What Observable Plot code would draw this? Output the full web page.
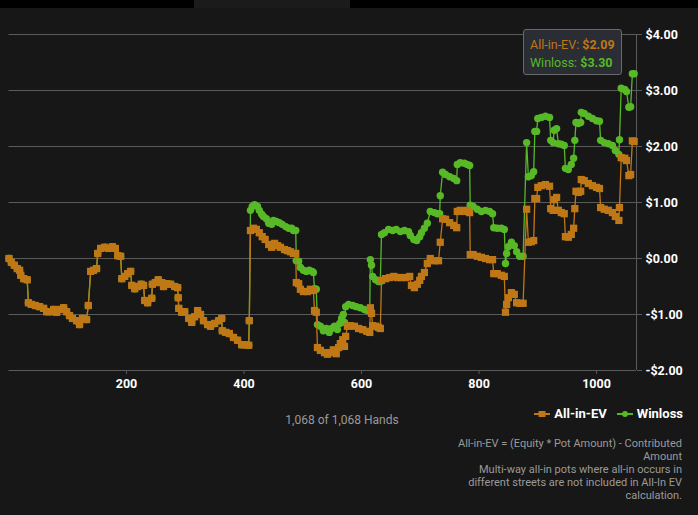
<!DOCTYPE html>
<html>
<head>
<meta charset="utf-8">
<script src="https://cdn.jsdelivr.net/npm/d3@7"></script>
<script src="https://cdn.jsdelivr.net/npm/@observablehq/plot@0.6"></script>
<style>
  html, body { margin: 0; padding: 0; }
  body { background: #171717; width: 698px; height: 515px; overflow: hidden; position: relative; font-family: Roboto, "Open Sans", sans-serif; }
  .bar { position: absolute; top: 0; height: 8px; background: #000; }
  #chart { position: absolute; left: 0; top: 0; }
  #tooltip { position: absolute; left: 523px; top: 29px; width: 99px; height: 46px; background: #2a2d34; border: 1px solid #6a6a6a; border-radius: 3px; font-size: 12.5px; line-height: 18px; padding: 6px 0 0 6px; box-sizing: border-box; }
  #tooltip b { font-weight: 700; }
  #hands { position: absolute; left: 0; width: 684px; top: 413px; text-align: center; color: #9a9a9a; font-size: 12px; }
  #legend { position: absolute; right: 15px; top: 406px; display: flex; align-items: center; gap: 10px; color: #fff; font-weight: 700; font-size: 13px; }
  #legend span { display: flex; align-items: center; gap: 4px; }
  #caption { position: absolute; right: 16px; top: 437px; text-align: right; color: #9a9a9a; font-size: 11px; line-height: 13px; }
</style>
</head>
<body>
<div class="bar" style="left:0;width:194px"></div>
<div class="bar" style="left:194px;width:156px;background:#1b1b1b"></div>
<div class="bar" style="left:350px;width:348px"></div>
<div id="chart"></div>
<div id="tooltip"></div>
<div id="hands"></div>
<div id="legend"></div>
<div id="caption"></div>
<script>
// ---------- data ----------
const seriesNames = ["All-in-EV", "Winloss"];
const seriesColors = ["#bf7815", "#58b927"];
const totalHands = 1068;
const xTicks = [200, 400, 600, 800, 1000];
const yTicks = [-2, -1, 0, 1, 2, 3, 4];

// hands 0..409: Winloss and All-in-EV coincide
const sharedHands = [0,4,9,14,18,20,25,31,33,38,45,52,59,64,71,76,81,88,93,98,103,108,115,120,125,132,135,139,144,149,151,156,163,169,176,181,185,190,192,197,202,207,209,214,219,225,229,231,236,243,244,249,254,260,263,268,275,282,287,288,289,294,299,306,311,316,321,326,331,338,343,350,357,362,363,369,375,382,389,396,402,408,409];
const sharedValues = [0.00,-0.07,-0.12,-0.18,-0.21,-0.30,-0.36,-0.38,-0.79,-0.82,-0.84,-0.86,-0.89,-0.95,-0.95,-0.91,-0.96,-0.91,-0.88,-0.95,-1.02,-1.07,-1.11,-1.18,-1.07,-1.09,-0.84,-0.23,-0.21,-0.18,0.09,0.18,0.20,0.18,0.21,0.18,0.05,0.04,-0.36,-0.32,-0.27,-0.23,-0.48,-0.54,-0.50,-0.46,-0.48,-0.75,-0.79,-0.71,-0.46,-0.43,-0.38,-0.43,-0.50,-0.45,-0.46,-0.50,-0.52,-0.70,-0.89,-0.96,-0.95,-1.07,-1.14,-1.04,-0.93,-1.00,-1.11,-1.18,-1.21,-1.16,-1.11,-1.07,-1.29,-1.32,-1.34,-1.41,-1.46,-1.54,-1.54,-1.55,-1.11];

const evHands = [411,416,421,426,431,436,442,447,452,457,462,469,474,479,484,488,489,493,496,501,508,513,518,520,523,525,530,537,542,547,552,557,561,564,568,571,573,576,581,588,595,602,609,614,615,617,619,624,629,632,634,641,648,655,661,668,675,682,685,690,695,699,702,707,712,717,724,731,734,738,743,750,757,762,763,768,775,780,784,785,790,797,804,811,818,823,825,831,838,843,845,847,850,855,860,864,869,875,881,884,889,893,895,898,900,906,913,920,922,926,928,932,935,940,945,947,952,957,961,963,965,969,973,974,979,986,993,1000,1005,1007,1013,1020,1027,1032,1038,1039,1042,1048,1051,1055,1058,1061,1064];
const evValues = [0.50,0.54,0.52,0.46,0.39,0.34,0.25,0.20,0.27,0.23,0.20,0.16,0.14,0.12,0.09,0.09,-0.43,-0.45,-0.55,-0.59,-0.59,-0.55,-0.57,-0.93,-0.96,-1.59,-1.64,-1.68,-1.71,-1.68,-1.63,-1.70,-1.59,-1.52,-1.45,-1.57,-1.39,-1.21,-1.20,-1.21,-1.25,-1.27,-1.30,-1.32,-0.88,-0.98,-1.20,-1.21,-1.23,-1.25,-0.39,-0.36,-0.34,-0.32,-0.34,-0.34,-0.34,-0.32,-0.48,-0.52,-0.46,-0.39,-0.32,-0.25,-0.09,0.00,-0.04,-0.04,0.29,0.71,0.70,0.64,0.59,0.55,0.84,0.86,0.84,0.86,0.82,0.07,0.07,0.04,0.02,0.00,-0.02,-0.02,-0.27,-0.27,-0.30,-0.32,-0.96,-0.82,-0.70,-0.61,-0.64,-0.79,-0.80,-0.80,0.88,0.29,0.30,0.32,1.07,1.07,1.27,1.30,1.32,1.29,0.89,0.86,1.05,1.09,0.86,0.82,0.80,0.39,0.38,0.43,0.54,0.89,1.20,1.18,1.20,1.41,1.39,1.34,1.30,1.27,1.25,0.91,0.88,0.86,0.82,0.75,0.68,0.91,1.80,1.79,1.75,1.48,1.50,2.10,2.09];

const wlHands = [411,414,418,423,426,430,433,438,442,447,450,455,460,465,471,476,481,484,488,489,493,496,501,506,511,516,518,520,523,525,530,535,540,545,549,554,559,563,566,569,571,573,578,585,591,598,605,610,614,615,617,619,624,629,632,634,639,646,653,659,666,673,680,683,689,694,699,702,707,712,717,724,729,733,734,738,743,750,757,762,763,768,775,780,784,785,790,797,804,811,818,823,825,831,838,843,845,847,850,855,860,864,869,875,881,884,889,893,895,898,900,906,913,920,922,926,928,932,935,940,945,947,952,957,961,963,965,969,973,974,979,986,993,1000,1005,1007,1013,1020,1027,1032,1038,1039,1042,1048,1051,1055,1058,1061,1064];
const wlValues = [0.86,0.93,0.96,0.93,0.86,0.79,0.75,0.71,0.63,0.61,0.68,0.66,0.64,0.61,0.57,0.54,0.54,0.50,0.50,-0.04,-0.05,-0.16,-0.21,-0.23,-0.21,-0.23,-0.25,-0.54,-0.55,-1.18,-1.21,-1.29,-1.25,-1.32,-1.25,-1.21,-1.27,-1.16,-1.07,-1.00,-1.14,-0.86,-0.82,-0.84,-0.86,-0.88,-0.91,-0.93,-0.93,-0.02,-0.12,-0.32,-0.38,-0.41,-0.41,0.43,0.46,0.52,0.50,0.52,0.48,0.50,0.48,0.41,0.34,0.32,0.39,0.46,0.54,0.63,0.84,0.82,0.80,0.80,1.12,1.54,1.50,1.46,1.43,1.39,1.68,1.71,1.70,1.68,1.66,0.95,0.93,0.88,0.84,0.86,0.84,0.80,0.55,0.54,0.54,0.52,-0.09,0.09,0.21,0.29,0.23,0.12,0.04,0.04,2.07,1.46,1.48,1.55,2.27,2.27,2.50,2.52,2.54,2.52,2.11,2.07,2.29,2.32,2.05,2.04,2.02,1.61,1.59,1.68,1.79,2.11,2.43,2.41,2.43,2.61,2.59,2.54,2.50,2.46,2.45,2.11,2.07,2.05,2.02,1.93,1.86,2.12,3.04,3.02,2.98,2.70,2.71,3.30,3.30];

// ---------- build tables ----------
const shared = sharedHands.map((h, i) => ({hand: h, value: sharedValues[i]}));
const evData = shared.concat(evHands.map((h, i) => ({hand: h, value: evValues[i]})));
const wlData = shared.concat(wlHands.map((h, i) => ({hand: h, value: wlValues[i]})));

const money = d => (d < 0 ? "-" : "") + "$" + Math.abs(d).toFixed(2);

const chart = Plot.plot({
  width: 698,
  height: 400,
  marginLeft: 8.5,
  marginRight: 62,
  marginTop: 34,
  marginBottom: 30,
  style: {background: "transparent", fontFamily: "Roboto, sans-serif", fontSize: "12px"},
  x: {domain: [0, totalHands]},
  y: {domain: [-2, 4]},
  marks: [
    Plot.ruleY(yTicks, {stroke: "#5a5a5a", strokeWidth: 1}),
    Plot.ruleX([totalHands], {stroke: "#5a5a5a", strokeWidth: 1}),
    Plot.line(wlData, {x: "hand", y: "value", stroke: seriesColors[1], strokeWidth: 1.3}),
    Plot.dot(wlData, {x: "hand", y: "value", fill: seriesColors[1], r: 3.7, symbol: "circle"}),
    Plot.line(evData, {x: "hand", y: "value", stroke: seriesColors[0], strokeWidth: 1.3}),
    Plot.dot(evData, {x: "hand", y: "value", fill: seriesColors[0], r: 4.1, symbol: "square"}),
    Plot.axisY({anchor: "right", ticks: yTicks, tickFormat: money, tickSize: 5, tickPadding: 4, stroke: "#5a5a5a", fill: "#ffffff", fontWeight: "bold", fontSize: 12.5, label: null}),
    Plot.axisX({ticks: xTicks, tickFormat: d => String(d), tickSize: 4, tickPadding: 5, stroke: "#5a5a5a", fill: "#ffffff", fontWeight: "bold", fontSize: 12.5, label: null})
  ]
});
document.getElementById("chart").appendChild(chart);

// tooltip (last hand)
const lastEv = evValues[evValues.length - 1];
const lastWl = wlValues[wlValues.length - 1];
document.getElementById("tooltip").innerHTML =
  `<div style="color:${seriesColors[0]}">${seriesNames[0]}: <b>${money(lastEv)}</b></div>` +
  `<div style="color:${seriesColors[1]}">${seriesNames[1]}: <b>${money(lastWl)}</b></div>`;

document.getElementById("hands").textContent =
  `${d3.format(",")(totalHands)} of ${d3.format(",")(totalHands)} Hands`;

const sq = `<svg width="16" height="8"><line x1="0" y1="4" x2="16" y2="4" stroke="${seriesColors[0]}" stroke-width="2"/><rect x="4.5" y="1" width="7" height="6" fill="${seriesColors[0]}"/></svg>`;
const ci = `<svg width="16" height="8"><line x1="0" y1="4" x2="16" y2="4" stroke="${seriesColors[1]}" stroke-width="2"/><circle cx="8" cy="4" r="3" fill="${seriesColors[1]}"/></svg>`;
document.getElementById("legend").innerHTML =
  `<span>${sq}${seriesNames[0]}</span><span>${ci}${seriesNames[1]}</span>`;

const captionLines = [
  "All-in-EV = (Equity * Pot Amount) - Contributed",
  "Amount",
  "Multi-way all-in pots where all-in occurs in",
  "different streets are not included in All-In EV",
  "calculation."
];
document.getElementById("caption").innerHTML = captionLines.join("<br>");
</script>
</body>
</html>
